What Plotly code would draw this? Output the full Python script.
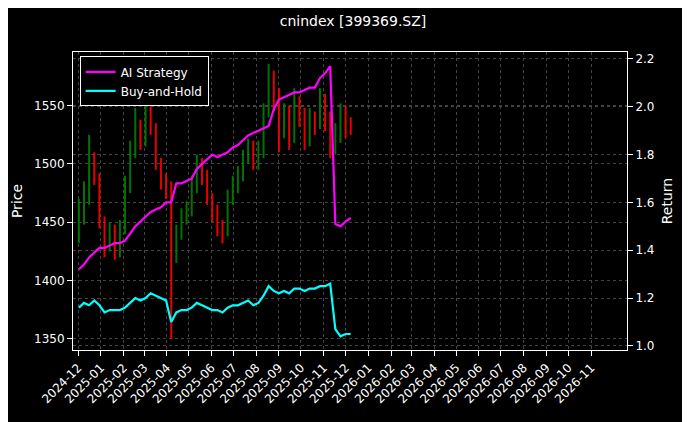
import pandas as pd
import plotly.graph_objects as go

# weekly bars
dates = pd.date_range("2024-12-02", periods=54, freq="7D")

close = [1455, 1470, 1505, 1490, 1450,
         1430, 1440, 1425, 1445,
         1480, 1510, 1530, 1520,
         1545, 1530, 1500, 1485, 1480,
         1420, 1440, 1455, 1460,
         1480, 1500, 1490, 1470,
         1460, 1445, 1440, 1470, 1480,
         1490, 1505, 1515, 1500,
         1510, 1545, 1575, 1560,
         1530, 1545, 1520, 1550, 1540,
         1520, 1540, 1535, 1555,
         1540, 1515, 1525, 1545,
         1535, 1530]
open_ = [1440] + close[:-1]
high = [1470, 1485, 1525, 1510, 1492,
        1455, 1450, 1448, 1452,
        1490, 1520, 1548, 1538,
        1552, 1550, 1535, 1505, 1492,
        1485, 1448, 1462, 1468,
        1490, 1508, 1505, 1495,
        1475, 1465, 1452, 1478, 1490,
        1498, 1512, 1522, 1520,
        1520, 1552, 1586, 1580,
        1565, 1552, 1550, 1565, 1558,
        1548, 1548, 1545, 1565,
        1560, 1545, 1535, 1552,
        1550, 1540]
low = [1432, 1448, 1465, 1482, 1445,
       1420, 1425, 1418, 1420,
       1440, 1475, 1505, 1512,
       1515, 1525, 1495, 1478, 1470,
       1350, 1415, 1435, 1448,
       1455, 1475, 1482, 1465,
       1450, 1438, 1432, 1438, 1465,
       1475, 1485, 1500, 1495,
       1495, 1505, 1540, 1545,
       1510, 1522, 1512, 1518, 1532,
       1512, 1515, 1525, 1530,
       1528, 1505, 1508, 1518,
       1522, 1525]

ai_strategy = [1.32, 1.34, 1.37, 1.39, 1.41,
               1.41, 1.42, 1.43, 1.43,
               1.44, 1.47, 1.50, 1.52,
               1.54, 1.56, 1.57, 1.58, 1.60,
               1.60, 1.68, 1.68, 1.69,
               1.70, 1.74, 1.76, 1.78,
               1.80, 1.79, 1.80, 1.81, 1.83,
               1.84, 1.86, 1.88, 1.89,
               1.90, 1.91, 1.92, 1.99,
               2.03, 2.04, 2.05, 2.06, 2.06,
               2.07, 2.08, 2.08, 2.12,
               2.14, 2.17, 1.51, 1.50,
               1.52, 1.535]
buy_hold = [1.16, 1.18, 1.17, 1.19, 1.17,
            1.14, 1.15, 1.15, 1.15,
            1.16, 1.18, 1.20, 1.19,
            1.20, 1.22, 1.21, 1.20, 1.19,
            1.10, 1.14, 1.15, 1.15,
            1.16, 1.18, 1.17, 1.16,
            1.15, 1.15, 1.14, 1.16, 1.17,
            1.17, 1.18, 1.19, 1.17,
            1.18, 1.21, 1.25, 1.23,
            1.22, 1.23, 1.22, 1.24, 1.24,
            1.23, 1.24, 1.24, 1.25,
            1.25, 1.26, 1.07, 1.04,
            1.05, 1.05]

month_ticks = pd.date_range("2024-12-01", "2026-11-01", freq="MS")

fig = go.Figure()
fig.add_trace(go.Ohlc(
    x=dates, open=open_, high=high, low=low, close=close,
    increasing=dict(line=dict(color="green", width=2)),
    decreasing=dict(line=dict(color="red", width=2)),
    tickwidth=0, showlegend=False, opacity=0.9,
))
fig.add_trace(go.Scatter(x=dates, y=ai_strategy, name="AI Strategy", yaxis="y2",
                         line=dict(color="#ff00ff", width=2.2)))
fig.add_trace(go.Scatter(x=dates, y=buy_hold, name="Buy-and-Hold", yaxis="y2",
                         line=dict(color="#00ffff", width=2.2)))

grid = dict(showgrid=True, gridcolor="#444", griddash="dot", gridwidth=0.6, automargin=False)
fig.update_layout(
    width=690, height=422,
    paper_bgcolor="black", plot_bgcolor="black",
    font=dict(family="DejaVu Sans", color="white", size=12),
    margin=dict(l=65, r=71, t=44, b=80, autoexpand=False),
    title=dict(text="cnindex [399369.SZ]", x=0.5, xanchor="center", y=0.97,
               yanchor="middle", font=dict(size=14)),
    xaxis=dict(range=["2024-11-24", "2026-12-20"], tickvals=month_ticks,
               ticktext=[d.strftime("%Y-%m") for d in month_ticks], tickangle=-45,
               rangeslider=dict(visible=False), ticks="outside", tickcolor="white",
               showline=True, linecolor="white", mirror=True, **grid),
    yaxis=dict(title=dict(text="Price", standoff=8), range=[1340.5, 1596], dtick=50,
               ticks="outside", tickcolor="white", showline=True, linecolor="white",
               zeroline=False, **grid),
    yaxis2=dict(title=dict(text="Return", standoff=8), overlaying="y", side="right",
                range=[0.983, 2.229], tickvals=[1.0, 1.2, 1.4, 1.6, 1.8, 2.0, 2.2],
                tickformat=".1f", ticks="outside", tickcolor="white", showline=True,
                linecolor="white", zeroline=False, **grid),
    legend=dict(x=0.012, y=0.985, xanchor="left", yanchor="top", bgcolor="black",
                bordercolor="white", borderwidth=1, font=dict(size=12)),
)
fig.write_html("out.html")
